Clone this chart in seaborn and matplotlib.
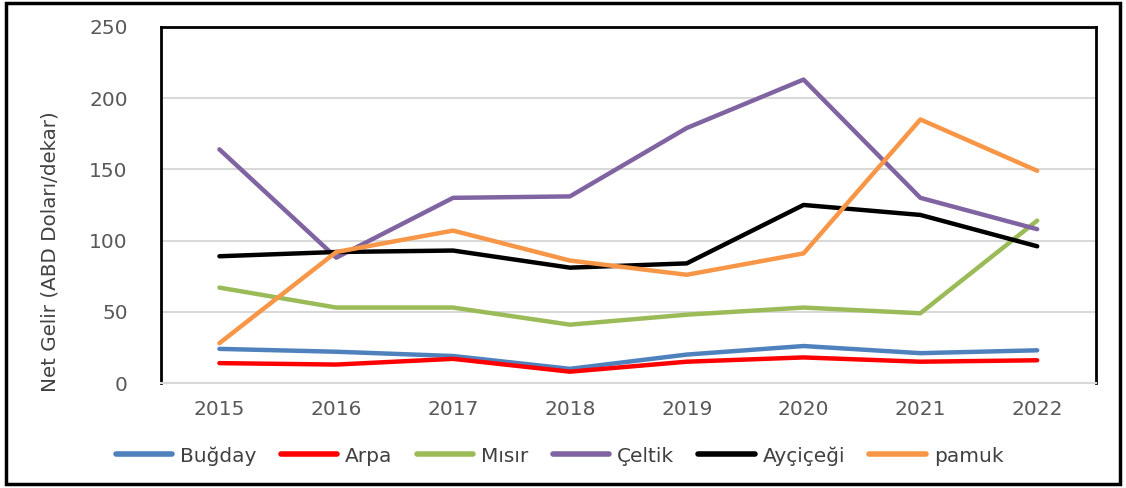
import pandas as pd
import matplotlib.pyplot as plt
import seaborn as sns
from matplotlib.patches import Rectangle

# Data
years = ["2015", "2016", "2017", "2018", "2019", "2020", "2021", "2022"]
bugday = [24, 22, 19, 10, 20, 26, 21, 23]
arpa = [14, 13, 17, 8, 15, 18, 15, 16]
misir = [67, 53, 53, 41, 48, 53, 49, 114]
celtik = [164, 88, 130, 131, 179, 213, 130, 108]
aycicegi = [89, 92, 93, 81, 84, 125, 118, 96]
pamuk = [28, 92, 107, 86, 76, 91, 185, 149]

series_names = ["Buğday", "Arpa", "Mısır", "Çeltik", "Ayçiçeği", "pamuk"]
series_values = [bugday, arpa, misir, celtik, aycicegi, pamuk]
colors = ["#4F81BD", "#FF0000", "#9BBB59", "#8064A2", "#000000", "#F79646"]

rows = []
for name, vals in zip(series_names, series_values):
    for i, v in enumerate(vals):
        rows.append({"idx": i, "year": years[i], "crop": name, "value": v})
df = pd.DataFrame(rows)

sns.set_style("white")
plt.rcParams['font.family'] = ['DejaVu Sans']

fig = plt.figure(figsize=(11.26, 4.88), dpi=100, facecolor='white')
ax = fig.add_axes([0.143, 0.215, 0.830, 0.730])

sns.lineplot(data=df, x="idx", y="value", hue="crop", hue_order=series_names,
             palette=dict(zip(series_names, colors)), linewidth=3.2,
             solid_capstyle='round', ax=ax, legend=False)

ax.set_xlim(-0.5, 7.5)
ax.set_ylim(0, 250)
ax.set_yticks(range(0, 251, 50))
ax.set_xticks(range(len(years)))
ax.set_xticklabels(years)
ax.yaxis.grid(True, color='#D9D9D9', linewidth=1.5)
ax.set_axisbelow(True)
ax.tick_params(axis='both', length=0, labelsize=14.5, labelcolor='#595959')
ax.tick_params(axis='x', pad=12)
ax.tick_params(axis='y', pad=24)
ax.set_xlabel("")
ax.set_ylabel("Net Gelir (ABD Doları/dekar)", fontsize=14.3, color='#404040')
ax.yaxis.set_label_coords(-0.109, 0.368)

for side in ['left', 'top', 'right']:
    ax.spines[side].set_color('black')
    ax.spines[side].set_linewidth(2)
ax.spines['bottom'].set_color('#D9D9D9')
ax.spines['bottom'].set_linewidth(1.5)

handles = [plt.Line2D([0], [0], color=c, linewidth=4, solid_capstyle='round') for c in colors]
fig.legend(handles, series_names, loc='center', bbox_to_anchor=(0.497, 0.066), ncol=6,
           frameon=False, fontsize=14.5, handlelength=2.8, handletextpad=0.4,
           columnspacing=1.2, labelcolor='#404040')

# Outer frame around the whole figure
fig.patches.append(Rectangle((0.005, 0.008), 0.99, 0.985, transform=fig.transFigure,
                             fill=False, edgecolor='black', linewidth=2.5))

plt.savefig("out.png", dpi=100, facecolor='white')
plt.close()
